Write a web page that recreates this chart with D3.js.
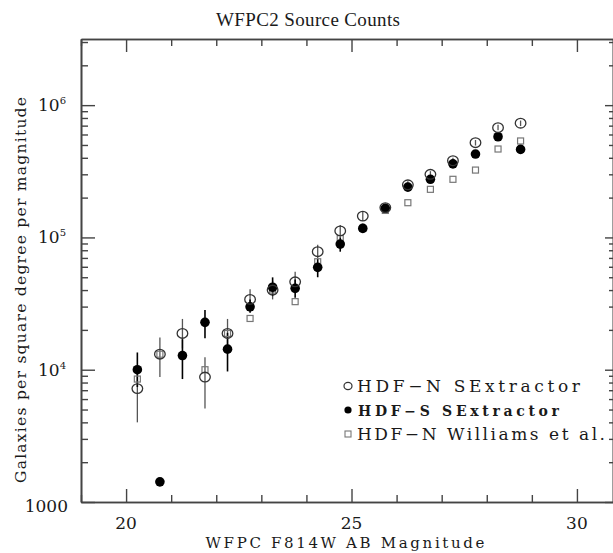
<!DOCTYPE html>
<html><head><meta charset="utf-8">
<script src="https://cdn.jsdelivr.net/npm/d3@7"></script>
<style>body{margin:0;background:#fff}svg{display:block}</style>
</head><body>
<svg id="c" width="613" height="553"></svg>
<script>
// ---- data ----
const magnitudes = [20.25,20.75,21.25,21.75,22.25,22.75,23.25,23.75,24.25,24.75,25.25,25.75,26.25,26.75,27.25,27.75,28.25,28.75];
const hdfN   = [7.2e3,1.31e4,1.88e4,8.8e3,1.88e4,3.4e4,4.0e4,4.62e4,7.8e4,1.12e5,1.45e5,1.68e5,2.5e5,3.0e5,3.8e5,5.2e5,6.76e5,7.3e5];
const hdfNLo = [4.0e3,8.8e3,1.45e4,5.1e3,1.45e4,2.85e4,3.4e4,4.0e4,7.0e4,1.0e5,1.33e5,1.56e5,2.34e5,2.83e5,3.6e5,4.95e5,6.45e5,6.95e5];
const hdfNHi = [1.0e4,1.75e4,2.42e4,1.24e4,2.42e4,4.06e4,4.7e4,5.5e4,8.8e4,1.24e5,1.58e5,1.8e5,2.66e5,3.17e5,4.0e5,5.45e5,7.1e5,7.65e5];
const hdfS   = [1.0e4,1.42e3,1.28e4,2.28e4,1.43e4,2.99e4,4.2e4,4.12e4,5.94e4,8.9e4,1.17e5,1.66e5,2.4e5,2.75e5,3.6e5,4.27e5,5.77e5,4.63e5];
const hdfSLo = [7.4e3,1.42e3,8.5e3,1.73e4,9.7e3,2.69e4,3.6e4,3.5e4,5.0e4,7.8e4,1.08e5,1.55e5,2.25e5,2.6e5,3.42e5,4.07e5,5.52e5,4.42e5];
const hdfSHi = [1.35e4,1.42e3,1.7e4,2.83e4,1.9e4,3.4e4,4.99e4,4.8e4,6.9e4,1.0e5,1.27e5,1.78e5,2.55e5,2.9e5,3.78e5,4.47e5,6.02e5,4.84e5];
const williams = [8.5e3,1.31e4,1.28e4,1.0e4,1.88e4,2.44e4,4.0e4,3.27e4,6.55e4,9.8e4,1.17e5,1.6e5,1.83e5,2.31e5,2.75e5,3.23e5,4.66e5,5.36e5];
const xMajorTicks = [20,25,30];
const xMinorTicks = [19,21,22,23,24,26,27,28,29];
const yMajorTicks = [1e3,1e4,1e5,1e6];
const yTickLabels = ["1000","4","5","6"];
const legendLabels = ["HDF\u2212N SExtractor","HDF\u2212S SExtractor","HDF\u2212N Williams et al."];
const titleText = "WFPC2 Source Counts";
const xLabel = "WFPC F814W AB Magnitude";
const yLabel = "Galaxies per square degree per magnitude";

// ---- chart ----
const svg = d3.select("#c");
const FONT = "'DejaVu Serif', serif";
const TFONT = "'Liberation Serif', serif";
const AX = "#444";
const TXT = "#1a1a1a";
const x = d3.scaleLinear().domain([19, 30.8]).range([81, 613]);
const y = d3.scaleLog().domain([1000, Math.pow(10, 6.5)]).range([502, 39]);
const yMinor = [];
[1e3,1e4,1e5,1e6].forEach(d => { for (let k = 2; k <= 9; k++) if (d*k <= Math.pow(10,6.5)) yMinor.push(d*k); });

function styleAxis(g) {
  g.selectAll(".domain").attr("stroke", AX).attr("stroke-width", 1.6);
  g.selectAll(".tick line").attr("stroke", AX).attr("stroke-width", 1.4);
  g.selectAll(".tick text").remove();
}
svg.append("g").attr("transform", "translate(0,502)")
  .call(d3.axisBottom(x).tickValues(xMajorTicks).tickSize(-13).tickSizeOuter(0)).call(styleAxis);
svg.append("g").attr("transform", "translate(0,502)")
  .call(d3.axisBottom(x).tickValues(xMinorTicks).tickSize(-7).tickSizeOuter(0)).call(styleAxis);
svg.append("g").attr("transform", "translate(0,39)")
  .call(d3.axisTop(x).tickValues(xMajorTicks).tickSize(-13).tickSizeOuter(0)).call(styleAxis);
svg.append("g").attr("transform", "translate(0,39)")
  .call(d3.axisTop(x).tickValues(xMinorTicks).tickSize(-7).tickSizeOuter(0)).call(styleAxis);
svg.append("g").attr("transform", "translate(81,0)")
  .call(d3.axisLeft(y).tickValues(yMajorTicks).tickSize(-14).tickSizeOuter(0)).call(styleAxis);
svg.append("g").attr("transform", "translate(81,0)")
  .call(d3.axisLeft(y).tickValues(yMinor).tickSize(-7).tickSizeOuter(0)).call(styleAxis);
svg.append("g").attr("transform", "translate(613,0)")
  .call(d3.axisRight(y).tickValues(yMajorTicks).tickSize(-8).tickSizeOuter(0)).call(styleAxis);
svg.append("g").attr("transform", "translate(613,0)")
  .call(d3.axisRight(y).tickValues(yMinor).tickSize(-4).tickSizeOuter(0)).call(styleAxis);

// tick labels
svg.append("g").selectAll("text").data(xMajorTicks).join("text")
  .attr("x", d => x(d)).attr("y", 529).attr("text-anchor", "middle")
  .attr("font-family", FONT).attr("font-size", 17).attr("fill", TXT).text(d => d);
const yl = svg.append("g").selectAll("text").data(yMajorTicks).join("text")
  .attr("x", 66).attr("y", d => y(d) + 6).attr("text-anchor", "end")
  .attr("font-family", FONT).attr("font-size", 17).attr("fill", TXT);
yl.each(function(d, i) {
  const t = d3.select(this);
  if (i === 0) { t.text(yTickLabels[i]).attr("x", 68).attr("y", y(d) + 10); }
  else {
    t.append("tspan").text("10");
    t.append("tspan").attr("dy", -7).attr("font-size", 10).text(yTickLabels[i]);
  }
});

// titles
svg.append("text").attr("x", 308).attr("y", 26).attr("text-anchor", "middle")
  .attr("font-family", TFONT).attr("font-size", 19).attr("textLength", 184).attr("lengthAdjust", "spacing")
  .attr("fill", TXT).text(titleText);
svg.append("text").attr("x", 345).attr("y", 548).attr("text-anchor", "middle")
  .attr("font-family", FONT).attr("font-size", 15).attr("textLength", 279).attr("lengthAdjust", "spacing")
  .attr("fill", TXT).text(xLabel);
svg.append("text").attr("transform", "translate(26,290) rotate(-90)").attr("text-anchor", "middle")
  .attr("font-family", FONT).attr("font-size", 15.5).attr("textLength", 386).attr("lengthAdjust", "spacing")
  .attr("fill", TXT).text(yLabel);

// error bars
const plot = svg.append("g");
plot.selectAll("line.en").data(magnitudes).join("line").attr("class","en")
  .attr("x1", d => x(d)).attr("x2", d => x(d))
  .attr("y1", (d,i) => y(hdfNLo[i])).attr("y2", (d,i) => y(hdfNHi[i]))
  .attr("stroke", "#555").attr("stroke-width", 1.3);
plot.selectAll("line.es").data(magnitudes).join("line").attr("class","es")
  .attr("x1", d => x(d)).attr("x2", d => x(d))
  .attr("y1", (d,i) => y(hdfSLo[i])).attr("y2", (d,i) => y(hdfSHi[i]))
  .attr("stroke", "#000").attr("stroke-width", 1.6);

// markers
plot.selectAll("rect.w").data(magnitudes).join("rect").attr("class","w")
  .attr("x", d => x(d) - 3).attr("y", (d,i) => y(williams[i]) - 3)
  .attr("width", 6).attr("height", 6).attr("fill", "none").attr("stroke", "#777").attr("stroke-width", 1.2);
plot.selectAll("circle.s").data(magnitudes).join("circle").attr("class","s")
  .attr("cx", d => x(d)).attr("cy", (d,i) => y(hdfS[i])).attr("r", 4.8).attr("fill", "#000");
plot.selectAll("ellipse.n").data(magnitudes).join("ellipse").attr("class","n")
  .attr("cx", d => x(d)).attr("cy", (d,i) => y(hdfN[i])).attr("rx", 5.3).attr("ry", 4.8)
  .attr("fill", "none").attr("stroke", "#333").attr("stroke-width", 1.3);

// legend
const leg = svg.append("g");
const legY = [386, 410, 434];
leg.append("ellipse").attr("cx", 348).attr("cy", legY[0]).attr("rx", 4).attr("ry", 3.6)
  .attr("fill", "none").attr("stroke", "#333").attr("stroke-width", 1.2);
leg.append("circle").attr("cx", 348).attr("cy", legY[1]).attr("r", 3.6).attr("fill", "#000");
leg.append("rect").attr("x", 345).attr("y", legY[2] - 3).attr("width", 6).attr("height", 6)
  .attr("fill", "none").attr("stroke", "#777").attr("stroke-width", 1.1);
const legLen = [223, 201, 248];
leg.selectAll("text").data(legendLabels).join("text")
  .attr("x", (d,i) => i === 1 ? 358 : 357).attr("y", (d,i) => legY[i] + 6)
  .attr("font-family", FONT).attr("font-size", (d,i) => i === 1 ? 14 : 17)
  .attr("font-weight", (d,i) => i === 1 ? "bold" : "normal")
  .attr("textLength", (d,i) => legLen[i]).attr("lengthAdjust", "spacing")
  .attr("fill", TXT).text(d => d);
</script>
</body></html>
